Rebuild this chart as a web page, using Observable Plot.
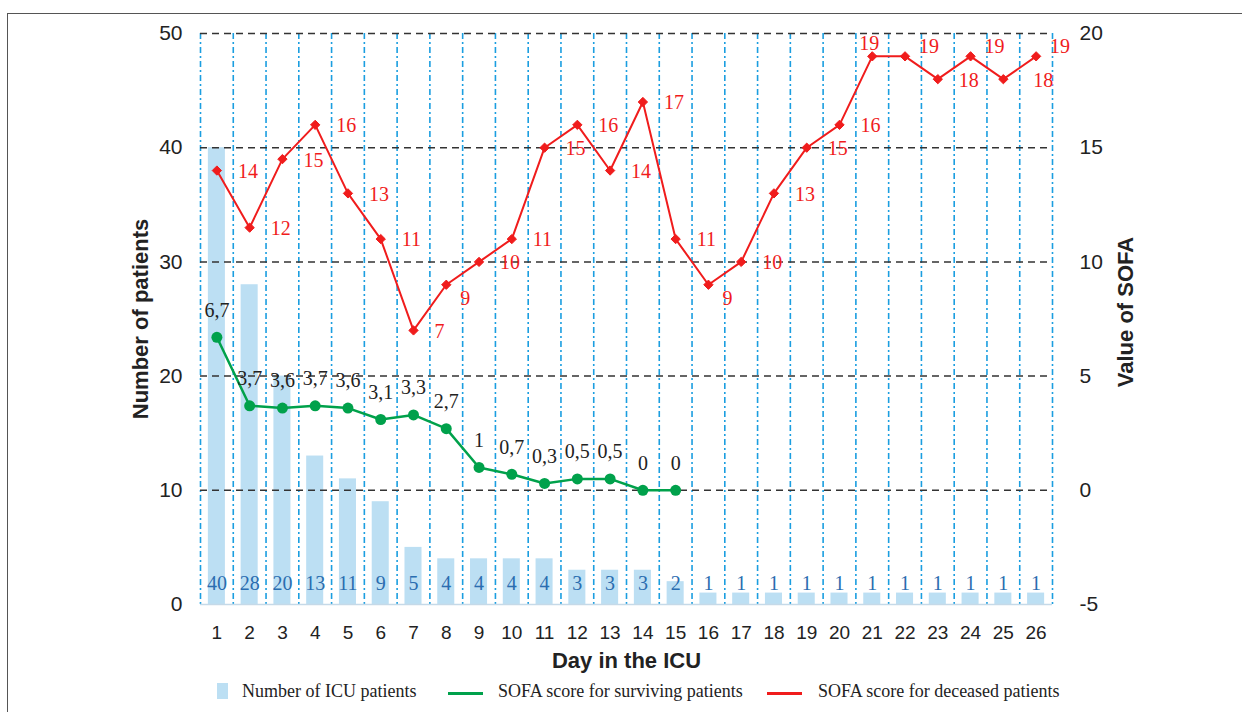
<!DOCTYPE html>
<html><head><meta charset="utf-8">
<script src="https://cdn.jsdelivr.net/npm/d3@7"></script>
<script src="https://cdn.jsdelivr.net/npm/@observablehq/plot@0.6"></script>
<style>
body{margin:0;background:#fff;}
#wrap{position:relative;width:1242px;height:712px;overflow:hidden;background:#fff;}
#chart{position:absolute;left:0;top:0;}
#frame{position:absolute;left:7px;top:13px;width:1240px;height:720px;border:1.5px solid #555;pointer-events:none;box-sizing:border-box;}
.leg{position:absolute;top:681px;font-family:"Liberation Serif","Times New Roman",serif;font-size:18px;color:#222;line-height:20px;white-space:nowrap;}
.sw{position:absolute;}
</style></head><body>
<div id="wrap"><div id="chart"></div>
<div class="sw" style="left:217px;top:683px;width:11px;height:16px;background:#bcdff3"></div>
<div class="leg" style="left:242px" id="l1"></div>
<div class="sw" style="left:448px;top:692px;width:35px;height:3px;background:#00a14b"></div>
<div class="leg" style="left:498px" id="l2"></div>
<div class="sw" style="left:767px;top:692px;width:35px;height:3px;background:#f01c1c"></div>
<div class="leg" style="left:818px" id="l3"></div>
<div id="frame"></div></div>
<script>
// ---- data ----
const days = [1,2,3,4,5,6,7,8,9,10,11,12,13,14,15,16,17,18,19,20,21,22,23,24,25,26];
const icuPatients = [40,28,20,13,11,9,5,4,4,4,4,3,3,3,2,1,1,1,1,1,1,1,1,1,1,1];
const sofaDeceased = [14,11.5,14.5,16,13,11,7,9,10,11,15,16,14,17,11,9,10,13,15,16,19,19,18,19,18,19];
const sofaSurvivingDays = [1,2,3,4,5,6,7,8,9,10,11,12,13,14,15];
const sofaSurviving = [6.7,3.7,3.6,3.7,3.6,3.1,3.3,2.7,1,0.7,0.3,0.5,0.5,0,0];
const leftTicks = [0,10,20,30,40,50];
const rightTicks = [-5,0,5,10,15,20];
const seriesNames = ["Number of ICU patients","SOFA score for surviving patients","SOFA score for deceased patients"];
// label placement for deceased-series data labels (r = right, br = below right, a = above, ar = above right)
const redLabelPlace = ["r","r","r","r","r","r","r","br","r","r","r","r","r","r","r","br","r","r","r","r","a","ar","r","ar","rr","ar"];

// ---- tables ----
const bars = days.map((d,i)=>({day:d, n:icuPatients[i]}));
const red = days.map((d,i)=>({day:d, v:sofaDeceased[i], place:redLabelPlace[i]}));
const green = sofaSurvivingDays.map((d,i)=>({day:d, v:sofaSurviving[i]}));
const toLeft = v => (v+5)*2;           // SOFA (right axis) -> left axis units
const fmtComma = v => String(v).replace(".", ",");
const boundaries = days.map(d=>d-0.5).concat([days[days.length-1]+0.5]);

const serif = "'Liberation Serif','Times New Roman',serif";
const sans = "'Liberation Sans',Arial,sans-serif";
const RED = "#f01c1c", GREEN = "#00a14b", BAR = "#bcdff3";

const placeOpts = {
  r:  {dx:21, dy:1, textAnchor:"start"},
  rr: {dx:30, dy:1, textAnchor:"start"},
  br: {dx:14, dy:14, textAnchor:"start"},
  a:  {dx:-3, dy:-13, textAnchor:"middle"},
  ar: {dx:14, dy:-10, textAnchor:"start"}
};
const redLabelMarks = Object.keys(placeOpts).map(k =>
  Plot.text(red.filter(d=>d.place===k), {x:"day", y:d=>toLeft(d.v), text:d=>String(Math.round(d.v)),
    fill:RED, fontSize:20, fontFamily:serif, ...placeOpts[k]}));

const chart = Plot.plot({
  width:1242, height:676,
  marginTop:33, marginBottom:72, marginLeft:200, marginRight:190,
  x:{type:"linear", domain:[0.5,26.5]},
  y:{domain:[0,50]},
  style:{background:"transparent", fontFamily:sans, color:"#222"},
  marks:[
    Plot.rectY(bars, {x1:d=>d.day-0.26, x2:d=>d.day+0.26, y1:0, y2:"n", fill:BAR}),
    Plot.ruleX(boundaries, {stroke:"#1b9ee0", strokeWidth:1.6, strokeDasharray:"6,3,2,3"}),
    Plot.ruleY(leftTicks.filter(t=>t>0), {stroke:"#333", strokeWidth:1.5, strokeDasharray:"7,5"}),
    Plot.ruleY([0], {stroke:"#c5d9e8", strokeWidth:1.5}),
    Plot.text(bars, {x:"day", y:0, text:d=>String(d.n), dy:-21, fill:"#2a6db0", fontSize:20, fontFamily:serif}),
    Plot.line(red, {x:"day", y:d=>toLeft(d.v), stroke:RED, strokeWidth:2}),
    Plot.dot(red, {x:"day", y:d=>toLeft(d.v), symbol:"diamond2", r:4.2, fill:RED, stroke:RED, strokeWidth:1}),
    ...redLabelMarks,
    Plot.line(green, {x:"day", y:d=>toLeft(d.v), stroke:GREEN, strokeWidth:2.5}),
    Plot.dot(green, {x:"day", y:d=>toLeft(d.v), r:5.5, fill:GREEN}),
    Plot.text(green, {x:"day", y:d=>toLeft(d.v), text:d=>fmtComma(d.v), dy:-27, fill:"#222", fontSize:20, fontFamily:serif}),
    Plot.axisX(days, {anchor:"bottom", tickSize:0, tickPadding:21, fontSize:19, label:null}),
    Plot.axisY(leftTicks, {anchor:"left", tickSize:0, tickPadding:18, fontSize:21, label:null}),
    Plot.axisY(rightTicks.map(toLeft), {anchor:"right", tickSize:0, tickPadding:27, fontSize:21, label:null, tickFormat:d=>String(d/2-5)}),
    Plot.text(["Number of patients"], {frameAnchor:"left", textAnchor:"middle", dx:-60, rotate:-90, fontSize:22, fontWeight:"bold"}),
    Plot.text(["Value of SOFA"], {frameAnchor:"right", textAnchor:"middle", dx:73, dy:-7, rotate:-90, fontSize:22, fontWeight:"bold"}),
    Plot.text(["Day in the ICU"], {frameAnchor:"bottom", dy:63, fontSize:22, fontWeight:"bold"})
  ]
});
document.getElementById("chart").appendChild(chart);
document.getElementById("l1").textContent = seriesNames[0];
document.getElementById("l2").textContent = seriesNames[1];
document.getElementById("l3").textContent = seriesNames[2];
</script>
</body></html>
